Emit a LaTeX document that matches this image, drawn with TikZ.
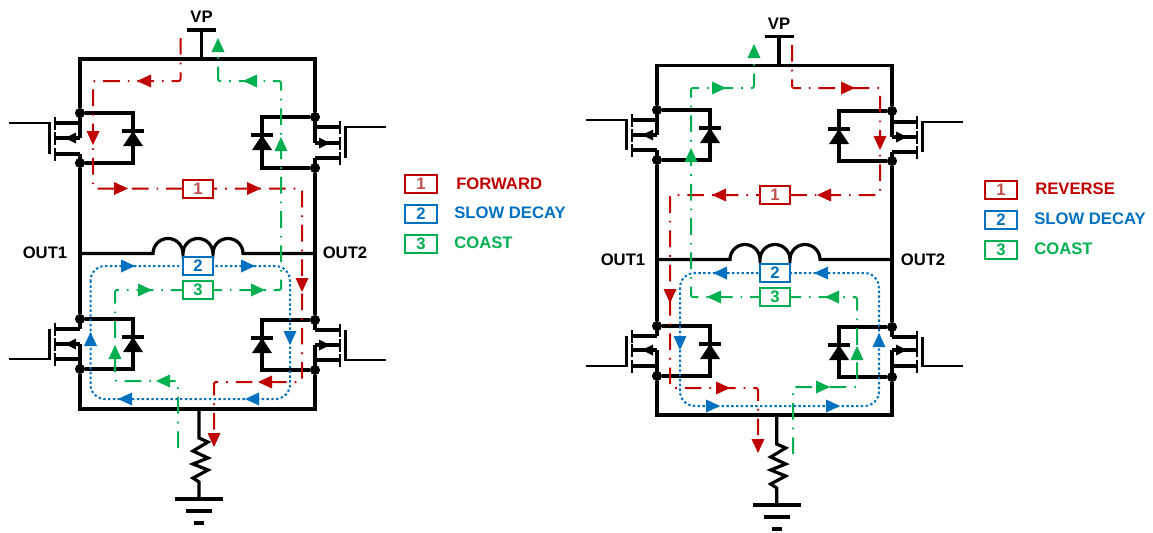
\documentclass[tikz,border=0pt]{standalone}
\usepackage{fontspec}
\setmainfont{Liberation Sans}
\definecolor{pathForward}{HTML}{C00000}
\definecolor{pathDecay}{HTML}{0070C0}
\definecolor{pathCoast}{HTML}{00B050}
\definecolor{tagOne}{HTML}{C0504D}
\tikzset{
  % node options
  junction/.style={circle,fill=black,inner sep=0pt,minimum size=7.6pt},
  term/.style={font=\bfseries\fontsize{12.5}{14}\selectfont,inner sep=0pt},
  mode/.style={term,anchor=west},
  tag/.style={term,rectangle,draw,fill=white,line width=1.6pt,minimum width=22.5pt,minimum height=13.5pt},
  tagForward/.style={tag,draw=pathForward,text=tagOne},
  tagDecay/.style={tag,draw=pathDecay,text=pathDecay},
  tagCoast/.style={tag,draw=pathCoast,text=pathCoast},
  key/.style={minimum width=24pt},
  % path options
  wire/.style={line width=2.4pt},
  gate/.style={line width=2.1pt},
  current/.style={line width=1.5pt,rounded corners=1.5pt,dash pattern=on 12.5pt off 6pt on 1.2pt off 6pt},
  forward/.style={current,pathForward},
  coast/.style={current,pathCoast},
  decay/.style={line width=1.5pt,pathDecay,rounded corners=11pt,dash pattern=on 1.8pt off 1.8pt},
}
% one half bridge switch: name, side, rail x, then the y of top dot, three stubs, bottom dot
\newcommand{\fetbody}[8]{
  \begin{scope}[shift={(#3,0)},xscale=#2]
    \node[junction] (#1t) at (0,#4) {};
    \node[junction] (#1b) at (0,#8) {};
    \draw[wire] (#1t) -| (-53,#8) -- (#1b);
    \draw[wire] (-64,#4+18) -- (-42,#4+18);
    \fill (-53,#4+18) -- (-63,#4+33) -- (-43,#4+33) -- cycle;
    \draw[wire] (0,#5) -- (25,#5) (0,#6) -- (25,#6) (0,#7) -- (25,#7);
    \draw[gate] (25,#5-6.5) -- (25,#5+6.5) (25,#6-6.5) -- (25,#6+6.5) (25,#7-6.5) -- (25,#7+6.5);
    \fill (15,#6) -- (4,#6-5.5) -- (4,#6+5.5) -- cycle;
  \end{scope}
}
\newcommand{\fettop}[8]{
  \fetbody{#1}{#2}{#3}{#4}{#5}{#6}{#7}{#8}
  \begin{scope}[shift={(#3,0)},xscale=#2]
    \draw[wire] (0,#4) -- (0,#6) (0,#7) -- (0,#8);
    \draw[gate] (71,#5) -- (30.5,#5) -- (30.5,#7);
  \end{scope}
}
\newcommand{\fetbot}[8]{
  \fetbody{#1}{#2}{#3}{#4}{#5}{#6}{#7}{#8}
  \begin{scope}[shift={(#3,0)},xscale=#2]
    \draw[wire] (0,#4) -- (0,#5) (0,#6) -- (0,#8);
    \draw[gate] (71,#7) -- (30.5,#7) -- (30.5,#5);
  \end{scope}
}
% frame, supply, coil and sense resistor round the four switches
\newcommand{\bridge}[1]{
  \draw[wire] (#1A) -- ++(0,-29) coordinate (#1V);
  \draw[wire] (#1V) ++(-14.5,0) -- ++(29,0);
  \node[term] (#1VP) at ([yshift=10pt]#1V) {VP};
  \draw[wire] (#1Lt) |- (#1A) -| (#1Rt);
  \draw[wire] (#1Lb) -- (#1Lst);
  \draw[wire] (#1Rb) -- (#1Rst);
  \draw[wire] (#1Lsb) |- (#1G) -| (#1Rsb);
  \draw[wire] (#1Ca) -- (#1Cb) arc[start angle=180,end angle=360,radius=15] arc[start angle=180,end angle=360,radius=15] arc[start angle=180,end angle=360,radius=15] -- (#1Cc);
  \draw[wire] (#1G) -- ++(0,29) -- ++(9,4) -- ++(-15,9) -- ++(15,7) -- ++(-15,6) -- ++(15,6) -- ++(-15,8) -- ++(6,4) -- ++(0,17) coordinate (#1E);
  \draw[wire] (#1E) ++(-24,0) -- ++(48,0);
  \draw[wire] (#1E) ++(-13,12) -- ++(26,0);
  \draw[wire] (#1E) ++(-5,24) -- ++(10,0);
}
\newcommand{\heads}[2]{
  \foreach \x/\y/\a in {#2}
    \fill[#1,shift={(\x,\y)},rotate=\a] (0,0) -- (-14,6.5) -- (-14,-6.5) -- cycle;
}
\begin{document}
\begin{tikzpicture}[x=0.75pt,y=-0.75pt]
  \useasboundingbox (0,0) rectangle (1153,532);

  % left bridge, forward
  \fettop{aL}{-1}{80}{113}{123}{138}{154}{163}
  \fettop{aR}{1}{315}{117}{127}{143}{158}{168}
  \fetbot{aLs}{-1}{80}{319}{329}{344}{359}{369}
  \fetbot{aRs}{1}{315}{320}{330}{345}{360}{370}
  \coordinate (aA) at (201.5,59);
  \coordinate (aG) at (199,409);
  \coordinate (aCa) at (80,253.5);
  \coordinate (aCb) at (153,253.5);
  \coordinate (aCc) at (315,253.5);
  \bridge{a}
  \node[term] (aOutL) at (45,253) {OUT1};
  \node[term] (aOutR) at (345,253) {OUT2};

  \coordinate (f1) at (180.5,38);
  \coordinate (f2) at (93,81);
  \coordinate (f3) at (302,188.5);
  \coordinate (f4) at (214,382);
  \coordinate (f5) at (214,434);
  \draw[forward] (f1) |- (f2) |- (f3) |- (f4) -- (f5);
  \coordinate (c1) at (178,448);
  \coordinate (c2) at (115,381);
  \coordinate (c3) at (281,290);
  \coordinate (c4) at (218,81);
  \coordinate (c5) at (218,49);
  \draw[coast] (c1) |- (c2) |- (c3) |- (c4) -- (c5);
  \coordinate (d1) at (90.5,266);
  \coordinate (d2) at (290,399);
  \draw[decay] (d1) rectangle (d2);
  \heads{pathForward}{137/81/180,93/145/-90,128/188.5/0,261/188.5/0,302/292/-90,258/382/180,214/447/-90}
  \heads{pathCoast}{115/345/90,156/381/180,152/290/0,265/290/0,281/137/90,243/81/180,218/38/90}
  \heads{pathDecay}{135/266/0,255/266/0,290/345/-90,245/399/180,118/399/180,90.5/332/90}
  \node[tagForward] (aT1) at (198,189) {1};
  \node[tagDecay] (aT2) at (198,266) {2};
  \node[tagCoast] (aT3) at (198,290) {3};

  \node[tagForward,key] (aK1) at (421,184) {1};
  \node[tagDecay,key] (aK2) at (421,214) {2};
  \node[tagCoast,key] (aK3) at (421,244) {3};
  \node[mode,text=pathForward] (aM1) at (456,184) {FORWARD};
  \node[mode,text=pathDecay] (aM2) at (454,213) {SLOW DECAY};
  \node[mode,text=pathCoast] (aM3) at (454,243) {COAST};

  % right bridge, reverse
  \fettop{bL}{-1}{657}{110}{120}{135}{150}{160}
  \fettop{bR}{1}{892}{111}{122}{137}{152}{161}
  \fetbot{bLs}{-1}{657}{326}{336}{350}{366}{376}
  \fetbot{bRs}{1}{892}{327}{337}{350}{366}{377}
  \coordinate (bA) at (779,65.7);
  \coordinate (bG) at (776.7,415);
  \coordinate (bCa) at (657,259.5);
  \coordinate (bCb) at (730,259.5);
  \coordinate (bCc) at (892,259.5);
  \bridge{b}
  \node[term] (bOutL) at (623,260) {OUT1};
  \node[term] (bOutR) at (923,260) {OUT2};

  \coordinate (r1) at (792,45);
  \coordinate (r2) at (880,88);
  \coordinate (r3) at (670,195);
  \coordinate (r4) at (758,388);
  \coordinate (r5) at (758,440);
  \draw[forward] (r1) |- (r2) |- (r3) |- (r4) -- (r5);
  \coordinate (e1) at (793,454);
  \coordinate (e2) at (857,387);
  \coordinate (e3) at (691,297);
  \coordinate (e4) at (754,88);
  \coordinate (e5) at (754,55);
  \draw[coast] (e1) |- (e2) |- (e3) |- (e4) -- (e5);
  \coordinate (g1) at (680,273);
  \coordinate (g2) at (879,406);
  \draw[decay] (g1) rectangle (g2);
  \heads{pathForward}{855/88/0,880/150/-90,817/195/180,712/195/180,670/303/-90,730/388/0,758/453/-90}
  \heads{pathCoast}{857/346/90,830/387/0,825/297/180,707/297/180,691/148/90,726/88/0,754/44/90}
  \heads{pathDecay}{713/273/180,814/273/180,680/350/-90,720/406/0,840/406/0,879/333/90}
  \node[tagForward] (bT1) at (775,195) {1};
  \node[tagDecay] (bT2) at (775,273) {2};
  \node[tagCoast] (bT3) at (775,297) {3};

  \node[tagForward,key] (bK1) at (1001,190) {1};
  \node[tagDecay,key] (bK2) at (1001,220) {2};
  \node[tagCoast,key] (bK3) at (1001,250) {3};
  \node[mode,text=pathForward] (bM1) at (1035,189) {REVERSE};
  \node[mode,text=pathDecay] (bM2) at (1034,219) {SLOW DECAY};
  \node[mode,text=pathCoast] (bM3) at (1034,249) {COAST};
\end{tikzpicture}
\end{document}
